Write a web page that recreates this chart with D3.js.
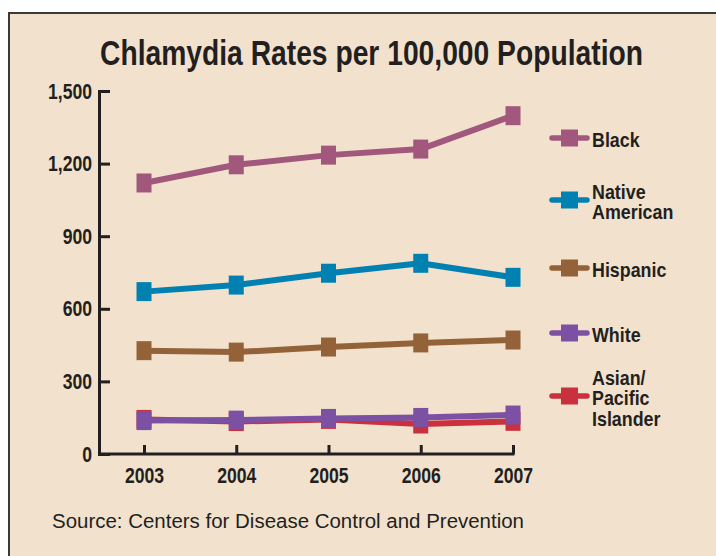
<!DOCTYPE html>
<html>
<head>
<meta charset="utf-8">
<script src="https://cdn.jsdelivr.net/npm/d3@7"></script>
<style>
  html, body { margin: 0; padding: 0; background: #fff; }
  svg text { fill: #231f20; }
</style>
</head>
<body>
<svg id="chart" width="716" height="556"></svg>
<script>
// data
const years = [2003, 2004, 2005, 2006, 2007];
const yTicks = [0, 300, 600, 900, 1200, 1500];
const black = [1120, 1195, 1235, 1260, 1398];
const nativeAmerican = [671, 698, 747, 788, 730];
const hispanic = [427, 421, 442, 459, 471];
const asianPacific = [143, 134, 143, 124, 135];
const white = [138, 140, 147, 151, 161];

const seriesNames = ["Black", "Native American", "Hispanic", "White", "Asian/Pacific Islander"];
const seriesValues = [black, nativeAmerican, hispanic, white, asianPacific];

// styles / layout
const colors = ["#a2587c", "#0081b2", "#946239", "#7c51a3", "#c9313f"];
const legendLines = [["Black"], ["Native", "American"], ["Hispanic"], ["White"], ["Asian/", "Pacific", "Islander"]];
const legendY = [138, 200, 268, 333, 396];
const font = "'Liberation Sans', Arial, sans-serif";
const ink = "#231f20";

// squeeze text horizontally, the original uses a condensed face
function condense(sel, k) {
  sel.each(function() {
    let w = this.getComputedTextLength();
    d3.select(this).attr("textLength", w * k).attr("lengthAdjust", "spacingAndGlyphs");
  });
}

const svg = d3.select("#chart");

// panel
svg.append("rect")
    .attr("x", 9).attr("y", 13)
    .attr("width", 720).attr("height", 560)
    .attr("fill", "#f2e2cd")
    .attr("stroke", "#3a3a3a")
    .attr("stroke-width", 2);

svg.append("text")
    .attr("x", 371.5).attr("y", 65)
    .attr("text-anchor", "middle")
    .attr("textLength", 543)
    .attr("lengthAdjust", "spacingAndGlyphs")
    .style("font-family", font)
    .style("font-weight", "bold")
    .style("font-size", "35px")
    .text("Chlamydia Rates per 100,000 Population");

let x = d3.scalePoint().domain(years).range([144, 513]);
let y = d3.scaleLinear().domain([0, 1500]).range([454, 91]);

// y axis
let gy = svg.append("g")
    .attr("transform", "translate(99,0)")
    .call(d3.axisLeft(y).tickValues(yTicks).tickFormat(d3.format(",")).tickSize(-11).tickPadding(7));
gy.selectAll("path, line").attr("stroke", ink).attr("stroke-width", 3);
gy.selectAll("text")
    .style("font-family", font).style("font-weight", "bold").style("font-size", "22px")
    .attr("fill", ink)
    .call(condense, 0.8);

// x axis
svg.append("line")
    .attr("x1", 99).attr("x2", 514.5)
    .attr("y1", 454).attr("y2", 454)
    .attr("stroke", ink).attr("stroke-width", 3);
let gx = svg.append("g")
    .attr("transform", "translate(0,454)")
    .call(d3.axisBottom(x).tickSize(-9).tickPadding(13));
gx.select(".domain").remove();
gx.selectAll("line").attr("stroke", ink).attr("stroke-width", 3);
gx.selectAll("text")
    .style("font-family", font).style("font-weight", "bold").style("font-size", "22px")
    .attr("fill", ink)
    .call(condense, 0.8);

// lines, drawn so White sits over Asian/Pacific Islander
let order = [0, 1, 2, 4, 3];
let line = d3.line().x((d, i) => x(years[i])).y(d => y(d));

order.forEach(k => {
  let g = svg.append("g");
  g.append("path")
      .datum(seriesValues[k])
      .attr("d", line)
      .attr("fill", "none")
      .attr("stroke", colors[k])
      .attr("stroke-width", 6)
      .attr("stroke-linejoin", "round");
  g.selectAll("rect")
    .data(seriesValues[k])
    .enter().append("rect")
      .attr("x", (d, i) => x(years[i]) - 7.5)
      .attr("y", d => y(d) - 9.5)
      .attr("width", 15)
      .attr("height", 19)
      .attr("fill", colors[k]);
});

// legend
seriesNames.forEach((name, k) => {
  let g = svg.append("g").attr("transform", "translate(0," + legendY[k] + ")");
  g.append("line")
      .attr("x1", 552).attr("x2", 587)
      .attr("stroke", colors[k])
      .attr("stroke-width", 5.5)
      .attr("stroke-linecap", "round");
  g.append("rect")
      .attr("x", 561).attr("y", -8.5)
      .attr("width", 17).attr("height", 17)
      .attr("fill", colors[k]);
  let lines = legendLines[k];
  let t = g.append("text")
      .style("font-family", font).style("font-weight", "bold").style("font-size", "21px");
  lines.forEach((s, j) => {
    t.append("tspan")
        .attr("x", 592)
        .attr("y", 9 + (j - (lines.length - 1) / 2) * 20.5)
        .text(s);
  });
  t.selectAll("tspan").call(condense, 0.85);
});

svg.append("text")
    .attr("x", 52).attr("y", 528)
    .attr("textLength", 472)
    .attr("lengthAdjust", "spacingAndGlyphs")
    .style("font-family", font)
    .style("font-size", "20px")
    .text("Source: Centers for Disease Control and Prevention");
</script>
</body>
</html>
